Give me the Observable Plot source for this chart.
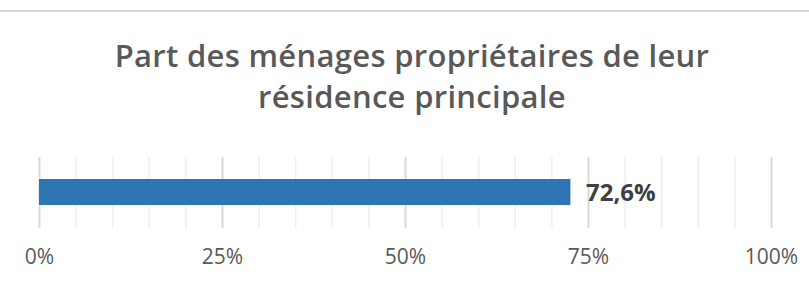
<!DOCTYPE html>
<html><head><meta charset="utf-8">
<script src="https://cdn.jsdelivr.net/npm/d3@7"></script>
<script src="https://cdn.jsdelivr.net/npm/@observablehq/plot@0.6"></script>
<style>
html,body{margin:0;padding:0;background:#fff;}
#wrap{width:809px;height:283px;position:relative;overflow:hidden;}
#topline{position:absolute;left:0;top:10px;width:809px;height:2px;background:#d9d9d9;}
#title{position:absolute;left:0;top:35px;width:824px;text-align:center;font-family:"Open Sans",sans-serif;font-weight:600;font-size:31px;line-height:41px;color:#595959;letter-spacing:0.3px;}
#chart{position:absolute;left:0;top:140px;}
</style></head>
<body><div id="wrap"><div id="topline"></div>
<div id="title">Part des ménages propriétaires de leur<br>résidence principale</div>
<div id="chart"></div></div>
<script>
const categories = ["Propriétaires"];
const values = [72.6];
const valueLabels = ["72,6%"];
const majorTicks = [0, 25, 50, 75, 100];
const minorTicks = d3.range(0, 101, 5);

const data = categories.map((c, i) => ({cat: c, value: values[i], label: valueLabels[i]}));

const plot = Plot.plot({
  width: 809,
  height: 143,
  marginLeft: 39,
  marginRight: 38,
  marginTop: 17,
  marginBottom: 55,
  style: {fontFamily: "Open Sans, sans-serif", background: "#fff"},
  x: {domain: [0, 100]},
  y: {domain: categories, padding: 0, axis: null},
  marks: [
    Plot.ruleX(minorTicks.filter(d => !majorTicks.includes(d)), {stroke: "#eeeeee", strokeWidth: 1.5}),
    Plot.ruleX(majorTicks, {stroke: "#d9d9d9", strokeWidth: 2}),
    Plot.barX(data, {x: "value", y: "cat", fill: "#2e75b6", insetTop: 22, insetBottom: 23}),
    Plot.text(data, {x: "value", y: "cat", text: "label", textAnchor: "start", dx: 15, fontSize: 24, fontWeight: "bold", fill: "#404040"}),
    Plot.axisX({ticks: majorTicks, tickSize: 0, tickPadding: 21, tickFormat: d => d + "%", fontSize: 21, color: "#595959", label: null})
  ]
});
document.getElementById("chart").appendChild(plot);
</script></body></html>
